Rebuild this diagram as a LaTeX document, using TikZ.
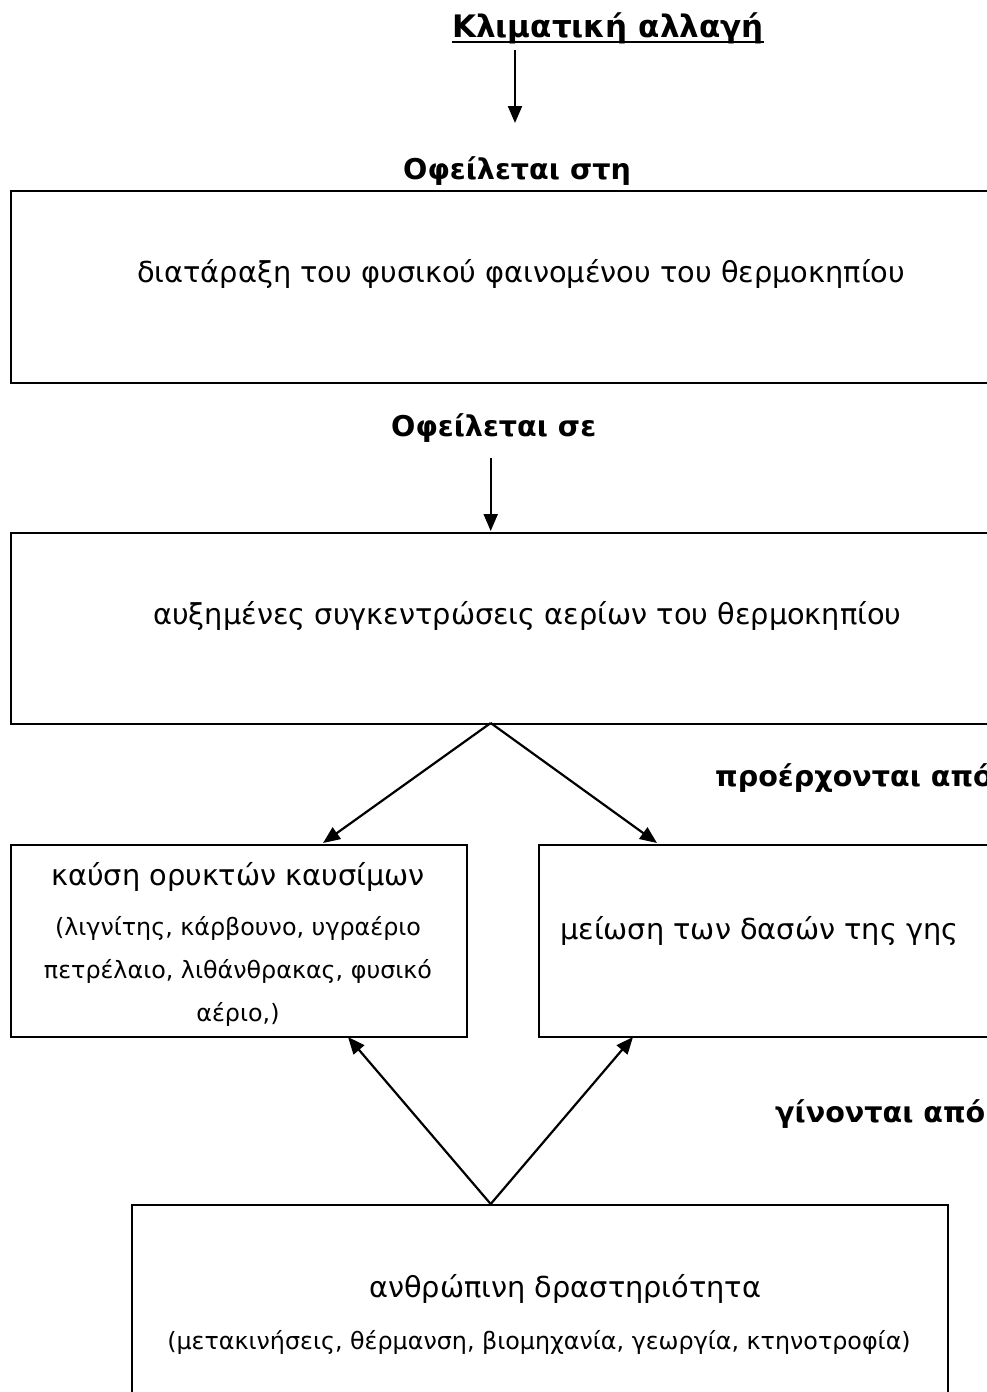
\documentclass[tikz,border=0pt]{standalone}
\usepackage{fontspec}
\setmainfont{DejaVu Sans}
\usetikzlibrary{arrows.meta}
\begin{document}
\begin{tikzpicture}[x=1pt,y=-1pt,
  box/.style={draw, line width=2.2pt, inner sep=0pt, anchor=north west},
  txt/.style={inner sep=0pt, anchor=base west, font=\fontsize{28.8}{34}\selectfont},
  ctxt/.style={inner sep=0pt, anchor=base, font=\fontsize{28.8}{34}\selectfont},
  small/.style={inner sep=0pt, anchor=base, font=\fontsize{23.8}{28}\selectfont},
  lbl/.style={inner sep=0pt, anchor=base west, font=\fontsize{28.6}{34}\selectfont\bfseries},
  arr/.style={-{Triangle[length=17pt,width=14pt]}, line width=2.2pt}]
\useasboundingbox (0,0) rectangle (987,1392);
\clip (0,0) rectangle (987,1392);
\fill[white] (0,0) rectangle (987,1392);
% title
\node[lbl, font=\fontsize{31}{37}\selectfont\bfseries] (title) at (452,37) {Κλιματική αλλαγή};
\draw[line width=2.2pt] ([yshift=-5pt]title.base west) -- ([yshift=-5pt]title.base east);
\coordinate (a1s) at (515,50);
\coordinate (a1e) at (515,123);
\draw[arr] (a1s) -- (a1e);
\node[lbl] (l1) at (403,179) {Οφείλεται στη};
% box 1
\node[box, minimum width=1035pt, minimum height=192pt] (b1) at (10,190) {};
\node[txt] (t1) at (137,282) {διατάραξη του φυσικού φαινομένου του θερμοκηπίου};
\node[lbl] (l2) at (391,436) {Οφείλεται σε};
\coordinate (a2s) at (490.7,458);
\coordinate (a2e) at (490.7,531);
\draw[arr] (a2s) -- (a2e);
% box 2
\node[box, minimum width=1035pt, minimum height=191pt] (b2) at (10,532) {};
\node[txt] (t2) at (153,624) {αυξημένες συγκεντρώσεις αερίων του θερμοκηπίου};
% diverging arrows
\coordinate (apex1) at (490.7,723);
\coordinate (e3) at (323,843);
\coordinate (e4) at (657,843);
\draw[arr] (apex1) -- (e3);
\draw[arr] (apex1) -- (e4);
\node[lbl] (l3) at (715,786) {προέρχονται από};
% box 3
\node[box, minimum width=456pt, minimum height=192pt] (b3) at (10,844) {};
\node[ctxt] (t3a) at (238,885) {καύση ορυκτών καυσίμων};
\node[small] (t3b) at (238,935) {(λιγνίτης, κάρβουνο, υγραέριο};
\node[small] (t3c) at (238,978) {πετρέλαιο, λιθάνθρακας, φυσικό};
\node[small] (t3d) at (238,1021) {αέριο,)};
% box 4
\node[box, minimum width=507pt, minimum height=192pt] (b4) at (538,844) {};
\node[txt] (t4) at (560,939) {μείωση των δασών της γης};
% converging arrows
\coordinate (apex2) at (490.7,1204);
\coordinate (f3) at (348,1037);
\coordinate (f4) at (633,1037);
\draw[arr] (apex2) -- (f3);
\draw[arr] (apex2) -- (f4);
\node[lbl] (l4) at (775,1122) {γίνονται από};
% box 5
\node[box, minimum width=816pt, minimum height=200pt] (b5) at (131,1204) {};
\node[txt] (t5a) at (369,1297) {ανθρώπινη δραστηριότητα};
\node[small] (t5b) at (539,1349) {(μετακινήσεις, θέρμανση, βιομηχανία, γεωργία, κτηνοτροφία)};
\end{tikzpicture}
\end{document}
